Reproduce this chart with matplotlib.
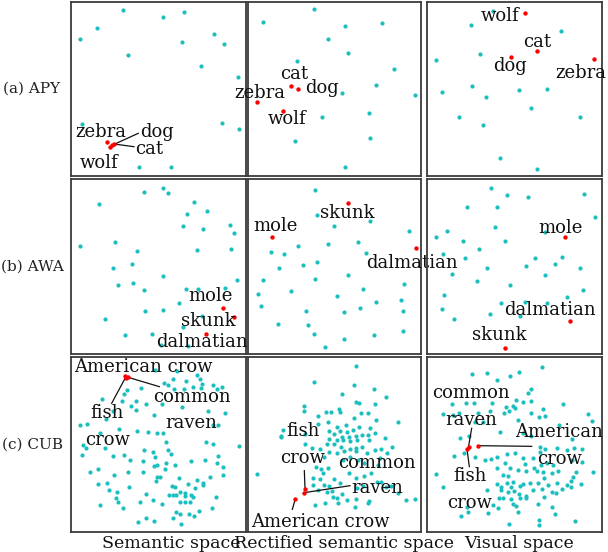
import matplotlib
matplotlib.use("Agg")
import matplotlib.pyplot as plt
import numpy as np

CYAN = "#1cbfbf"
RED = "#ff0000"
FONT = "DejaVu Serif"

ROW_LABELS = ["(a) APY", "(b) AWA", "(c) CUB"]
COL_LABELS = ["Semantic space", "Rectified semantic space", "Visual space"]

# panel boxes, figure pixels
COL_X = [(71, 245.5), (248, 421.5), (426.5, 602)]
ROW_Y = [(2, 175.7), (179.3, 354), (357.3, 531.7)]
COL_LABEL_X = [171, 344, 519]

# ---- APY (embedding units, y down) ----
apy_sem = [(52.3, 8.3), (91.7, 15), (113.3, 10), (26, 26), (9, 36.7), (142.7, 32.3),
           (110.7, 39.7), (153, 41.7), (57, 53.3), (129.7, 64), (166.7, 74.7),
           (10.7, 122.3), (151, 120.7), (167.7, 127), (68, 165), (100, 165.3)]
apy_sem_red = [(36, 140.3), (39, 145), (41, 143.3), (43, 142)]
apy_sem_txt = [("zebra", 29.7, 130), ("dog", 85.7, 129.7), ("cat", 78, 147), ("wolf", 28.3, 161)]
apy_sem_lines = [((67.3, 131.3), (41, 143.3)), ((63, 144.7), (43, 142))]

apy_rec = [(65.7, 7), (14.7, 20), (97.3, 23.7), (134, 21), (80, 37), (99.7, 51), (49, 58.7),
           (146, 67), (128.3, 83), (94.3, 91), (167, 93), (73.7, 115), (121, 111.3),
           (46.7, 138.7), (121.7, 135.7), (97.3, 165.3)]
apy_rec_red = [(8.7, 99.7), (42.7, 84.3), (50.3, 87.3), (35, 108.7)]
apy_rec_txt = [("cat", 46, 72), ("zebra", 11.5, 91), ("dog", 74.3, 86.3), ("wolf", 38.7, 117.3)]

apy_vis = [(66, 9), (44, 22.7), (134.7, 28.7), (53.7, 52.3), (9, 57.7), (15, 89.7), (45, 84),
           (59.7, 95), (92, 87.7), (120, 86.7), (104.7, 106.3), (32, 114.7), (56, 123.3),
           (153.7, 114.7), (73.3, 156.3), (110, 167.3)]
apy_vis_red = [(98.3, 11), (110, 49.3), (84.7, 54.7), (167, 57)]
apy_vis_txt = [("wolf", 74, 14), ("cat", 110.7, 40), ("dog", 84, 64), ("zebra", 154, 70.7)]

# ---- AWA ----
awa_sem = [(73, 12.7), (92, 8.7), (97, 13.7), (28, 24.3), (123.3, 22.3), (136, 31.7),
           (116, 34.7), (111.7, 46.7), (132, 49.3), (158.7, 45.7), (163.3, 53.3), (8.7, 66.7),
           (44.3, 62.3), (66, 72), (125.7, 71), (159.7, 69.7), (41.7, 88.3), (61, 84.3),
           (91.7, 96.7), (165.7, 100.3), (46.7, 106), (61.7, 103.3), (73, 110.3), (114.7, 109.7),
           (127.3, 109.7), (154, 109), (108, 123.7), (74, 131.7), (92, 130.7), (33.7, 139.7),
           (131.3, 136.3), (111.7, 148), (54.3, 155.3), (80.7, 154.3), (89.7, 165.3), (117.3, 166.7)]
awa_sem_red = [(151.7, 128.7), (163.3, 137.7), (134.7, 154.3)]
awa_sem_txt = [("mole", 139, 116.7), ("skunk", 137.3, 141.7), ("dalmatian", 131, 162.7)]

awa_rec = [(67.3, 11), (68.7, 35.7), (86.3, 47), (121.7, 42), (161, 51.7), (50, 66.7),
           (79.7, 64.3), (110, 63), (22.7, 72.3), (35.7, 74.7), (118, 74), (55, 85.3),
           (69.3, 82.7), (31.3, 89), (99.7, 95.7), (14.7, 100.7), (67, 99.7), (156.3, 104.7),
           (43, 111.7), (10.3, 115), (89, 116.3), (115.3, 109.7), (153.3, 120.7), (13, 126.7),
           (127.7, 122.7), (58, 131.7), (96, 132.3), (111.7, 129), (154.7, 132), (30, 144.7),
           (60, 145.3), (66, 155), (95.7, 160), (126, 155.7), (155, 152), (76.7, 167.7)]
awa_rec_red = [(99.7, 23.7), (24, 58), (168.3, 69)]
awa_rec_txt = [("skunk", 99.3, 33.3), ("mole", 27, 47), ("dalmatian", 164, 84)]

awa_vis = [(64, 8.7), (80, 15.7), (101.7, 18), (157.3, 14.7), (40, 27.3), (70, 27.3),
           (168, 37.7), (68.3, 47.7), (20.7, 52), (9, 57.3), (36, 61.3), (78.3, 61.7),
           (118, 53), (52.7, 69.7), (16.7, 75), (38.7, 79), (108.7, 78.3), (135.7, 77.7),
           (60.7, 88.3), (99, 86.7), (128, 84.3), (153.7, 88.7), (25.3, 95), (118, 96),
           (50, 101.7), (83.7, 105.7), (156, 110.7), (17.7, 116), (140, 117.7), (74.3, 123.7),
           (98, 122.7), (120, 123.7), (15.7, 130), (27.3, 140), (63.7, 135), (93, 136.3)]
awa_vis_red = [(138.3, 58), (143.7, 142), (78, 168.7)]
awa_vis_txt = [("mole", 134.3, 48.7), ("dalmatian", 123.3, 130.3), ("skunk", 73, 156)]

# ---- CUB (finer embedding units, y down) ----
cub_sem = [(465, 60), (530, 62), (590, 75), (558, 92), (600, 88), (607, 101), (640, 104), (520, 88),
           (493, 98), (505, 106), (523, 117), (553, 116), (578, 111), (602, 115), (651, 118),
           (667, 110), (380, 120), (373, 132), (423, 115), (408, 152), (365, 153), (307, 147),
           (392, 167), (438, 162), (486, 161), (545, 170), (625, 183), (676, 190), (409, 181),
           (462, 196), (338, 183), (317, 207), (240, 225), (260, 223), (300, 248), (358, 238),
           (410, 244), (444, 247), (471, 249), (488, 250), (497, 277), (653, 226), (619, 277),
           (640, 282), (716, 288), (248, 285), (258, 295), (247, 316), (316, 294), (432, 300),
           (460, 305), (505, 300), (512, 313), (339, 318), (372, 316), (390, 330), (428, 333),
           (466, 322), (463, 349), (470, 345), (498, 340), (495, 356), (525, 344), (572, 334),
           (616, 330), (653, 317), (652, 340), (670, 352), (270, 367), (293, 356), (342, 375),
           (385, 366), (430, 365), (471, 380), (468, 393), (480, 380), (536, 385), (563, 402),
           (591, 390), (610, 400), (629, 381), (669, 374), (295, 401), (321, 398), (388, 410),
           (515, 408), (525, 410), (527, 436), (540, 427), (556, 428), (584, 415), (609, 404),
           (326, 420), (352, 426), (347, 445), (437, 432), (458, 449), (508, 436), (518, 436),
           (556, 437), (572, 436), (579, 441), (648, 441), (299, 466), (368, 473), (355, 456),
           (420, 456), (485, 462), (540, 455), (555, 456), (571, 456), (598, 482), (636, 475),
           (528, 486), (541, 492), (567, 492), (581, 499), (438, 503), (463, 513), (415, 517),
           (543, 521), (519, 504), (640, 225)]
cub_sem_red = [(376, 78), (383, 80), (379, 83)]
cub_sem_txt = [("American crow", 430, 52), ("common", 575, 140), ("raven", 575, 218),
               ("fish", 322, 188), ("crow", 322, 270)]
cub_sem_lines = [((378, 80), (335, 160)), ((384, 82), (478, 110))]

cub_rec = [(348, 47), (221, 95), (341, 105), (401, 117), (305, 132), (437, 142), (348, 157),
           (358, 160), (405, 163), (193, 167), (193, 182), (296, 177), (299, 185), (259, 186),
           (272, 187), (363, 189), (383, 190), (235, 197), (341, 205), (408, 210), (474, 215),
           (233, 221), (263, 215), (318, 226), (290, 230), (130, 240), (123, 258), (268, 243),
           (300, 243), (320, 245), (338, 240), (358, 232), (390, 233), (195, 252), (283, 253),
           (305, 262), (327, 262), (347, 258), (365, 255), (384, 256), (405, 250), (124, 261),
           (436, 265), (268, 267), (290, 271), (308, 270), (331, 272), (350, 270), (388, 270),
           (260, 283), (283, 283), (302, 291), (216, 295), (240, 296), (196, 282), (330, 296),
           (348, 293), (367, 291), (424, 298), (404, 301), (457, 290), (268, 307), (290, 308),
           (313, 303), (348, 303), (380, 310), (440, 310), (252, 320), (310, 330), (331, 322),
           (354, 330), (373, 338), (420, 325), (227, 352), (243, 357), (264, 353), (415, 345),
           (393, 370), (373, 378), (347, 385), (327, 370), (248, 370), (240, 387), (283, 388),
           (301, 399), (218, 383), (220, 405), (253, 405), (266, 408), (410, 395), (423, 397),
           (437, 410), (453, 409), (475, 430), (52, 372), (497, 451), (524, 448), (305, 432),
           (290, 445), (278, 440), (322, 450), (348, 448), (385, 460), (388, 453), (225, 466),
           (256, 460), (294, 458), (346, 472), (235, 421), (260, 425), (276, 423), (350, 414),
           (370, 408)]
cub_rec_red = [(196, 418), (191, 428), (166, 447)]
cub_rec_txt = [("fish", 190, 243), ("crow", 187, 323), ("common", 410, 338), ("raven", 413, 415),
               ("American crow", 240, 515)]
cub_rec_lines = [((193, 362), (195, 415)), ((330, 407), (192, 428)), ((157, 478), (165, 450))]

cub_vis = [(366, 52), (157, 71), (202, 68), (270, 79), (296, 65), (230, 90), (333, 118), (323, 128),
           (95, 163), (139, 160), (162, 158), (215, 158), (287, 150), (308, 157), (333, 153),
           (259, 170), (278, 168), (285, 175), (430, 163), (70, 193), (99, 195), (117, 190),
           (175, 188), (210, 184), (253, 188), (268, 183), (334, 190), (369, 177), (376, 197),
           (505, 192), (517, 212), (164, 215), (188, 216), (293, 210), (356, 200), (418, 224),
           (121, 263), (148, 258), (241, 247), (310, 250), (333, 258), (456, 268), (462, 293),
           (360, 290), (376, 298), (412, 293), (440, 300), (485, 298), (103, 318), (131, 310),
           (165, 320), (196, 330), (214, 328), (232, 320), (260, 313), (286, 310), (310, 325),
           (338, 325), (360, 305), (256, 340), (316, 343), (343, 353), (364, 345), (380, 340),
           (400, 345), (456, 330), (487, 335), (230, 355), (269, 355), (295, 360), (250, 375),
           (264, 378), (317, 363), (350, 362), (370, 367), (395, 370), (414, 362), (467, 366),
           (520, 365), (48, 373), (70, 410), (230, 402), (243, 410), (260, 400), (272, 410),
           (280, 397), (300, 407), (310, 402), (330, 400), (353, 398), (372, 384), (385, 406),
           (412, 400), (440, 404), (453, 393), (460, 380), (484, 402), (200, 420), (243, 420),
           (264, 427), (281, 423), (297, 432), (318, 437), (340, 420), (366, 418), (372, 440),
           (396, 427), (409, 428), (425, 418), (453, 410), (237, 445), (250, 445), (273, 448),
           (301, 443), (318, 445), (353, 462), (395, 470), (140, 470), (220, 465), (278, 463),
           (287, 469), (122, 497), (145, 487), (203, 490), (295, 487), (405, 493), (357, 510),
           (358, 524), (268, 522), (465, 512), (235, 475)]
cub_vis_red = [(142, 298), (147, 292), (175, 287)]
cub_vis_txt = [("common", 152, 128), ("raven", 153, 210), ("American", 418, 247), ("crow", 420, 327),
               ("fish", 150, 378), ("crow", 150, 458)]
cub_vis_lines = [((155, 235), (145, 293)), ((148, 350), (142, 305)), ((175, 287), (335, 289))]

# axis limits per panel (x0, x1, y_bottom, y_top)
LIMS = [
    [(0, 174.5, 173.7, 0), (0, 173.5, 173.7, 0), (0, 175.5, 173.7, 0)],
    [(0, 174.5, 174.7, 0), (0, 173.5, 174.7, 0), (0, 175.5, 174.7, 0)],
    [(213, 736.5, 545, 22), (24, 544.5, 545, 22), (19.5, 546, 545, 22)],
]

PANELS = [
    [(apy_sem, apy_sem_red, apy_sem_txt, apy_sem_lines),
     (apy_rec, apy_rec_red, apy_rec_txt, []),
     (apy_vis, apy_vis_red, apy_vis_txt, [])],
    [(awa_sem, awa_sem_red, awa_sem_txt, []),
     (awa_rec, awa_rec_red, awa_rec_txt, []),
     (awa_vis, awa_vis_red, awa_vis_txt, [])],
    [(cub_sem, cub_sem_red, cub_sem_txt, cub_sem_lines),
     (cub_rec, cub_rec_red, cub_rec_txt, cub_rec_lines),
     (cub_vis, cub_vis_red, cub_vis_txt, cub_vis_lines)],
]

W, H = 608, 552
fig = plt.figure(figsize=(W / 100, H / 100), dpi=100)

for r, row in enumerate(PANELS):
    y0, y1 = ROW_Y[r]
    for c, (pts, red, txt, lines) in enumerate(row):
        x0, x1 = COL_X[c]
        ax = fig.add_axes([x0 / W, 1 - y1 / H, (x1 - x0) / W, (y1 - y0) / H])
        ax.patch.set_alpha(0)   # labels spill into neighbouring panels
        a, b, cb, ct = LIMS[r][c]
        ax.set_xlim(a, b); ax.set_ylim(cb, ct)
        ax.set_xticks([]); ax.set_yticks([])
        for s in ax.spines.values():
            s.set_color("#3a3a3a"); s.set_linewidth(1.3)
        p = np.array(pts)
        ax.scatter(p[:, 0], p[:, 1], s=9, color=CYAN, linewidths=0, zorder=2)
        q = np.array(red)
        ax.scatter(q[:, 0], q[:, 1], s=10, color=RED, linewidths=0, zorder=4)
        for (lx0, ly0), (lx1, ly1) in lines:
            ax.plot([lx0, lx1], [ly0, ly1], color="#111111", lw=0.9, zorder=3)
        for t, tx, ty in txt:
            ax.text(tx, ty, t, ha="center", va="center", fontsize=13, family=FONT,
                    color="#111111", zorder=10, clip_on=False)
    fig.text(32 / W, 1 - (y0 + y1) / 2 / H, ROW_LABELS[r], ha="center", va="center",
             fontsize=11, family=FONT, color="#222222")

for lab, cx in zip(COL_LABELS, COL_LABEL_X):
    fig.text(cx / W, 1 - 543 / H, lab, ha="center", va="center",
             fontsize=12.5, family=FONT, color="#111111")

fig.savefig("out.png", dpi=100)
